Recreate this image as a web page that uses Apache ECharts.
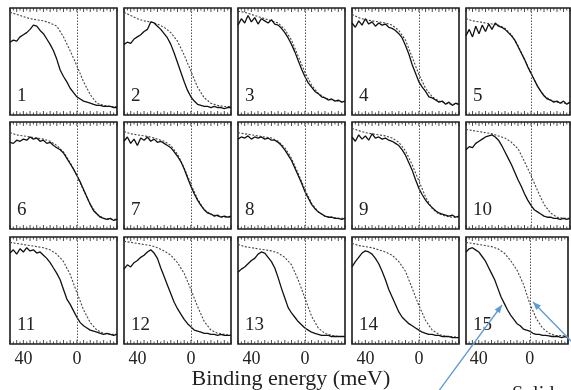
<!DOCTYPE html>
<html><head><meta charset="utf-8">
<script src="https://cdn.jsdelivr.net/npm/echarts@6/dist/echarts.min.js"></script>
<style>html,body{margin:0;padding:0;background:#fff}#c{width:571px;height:390px}</style>
</head><body><div id="c"></div>
<script>
// Binding energy grids (meV)
const energiesSolid = [50,47.5,45,42.5,40,37.5,35,32.5,30,27.5,25,22.5,20,17.5,15,12.5,10,7.5,5,2.5,0,-2.5,-5,-7.5,-10,-12.5,-15,-17.5,-20,-22.5,-25,-27.5,-30];
const energiesDashed = [50,45,40,35,30,25,20,15,10,5,0,-5,-10,-15,-20,-25,-30];
const majorTickValues = [50,45,40,35,30,25,20,15,10,5,0,-5,-10,-15,-20,-25,-30];
const minorTickValues = [47.5,42.5,37.5,32.5,27.5,22.5,17.5,12.5,7.5,2.5,-2.5,-7.5,-12.5,-17.5,-22.5,-27.5];
const panelLabels = ['1','2','3','4','5','6','7','8','9','10','11','12','13','14','15'];
const tickLabels = [40, 0];
const axisTitle = 'Binding energy (meV)';

// Solid spectra
const solid1 = [0.68,0.70,0.69,0.73,0.75,0.77,0.80,0.84,0.83,0.79, 0.76,0.71,0.66,0.60,0.52,0.42,0.36,0.31,0.25,0.21, 0.17,0.15,0.13,0.12,0.11,0.10,0.09,0.09,0.08,0.08, 0.08,0.07,0.07];
const solid2 = [0.66,0.68,0.67,0.71,0.73,0.75,0.78,0.80,0.87,0.86, 0.83,0.80,0.76,0.72,0.66,0.58,0.49,0.40,0.31,0.23, 0.17,0.13,0.10,0.09,0.08,0.08,0.07,0.08,0.07,0.07, 0.06,0.07,0.07];
const solid3 = [0.84,0.90,0.86,0.93,0.87,0.91,0.85,0.90,0.88,0.86, 0.89,0.85,0.84,0.81,0.77,0.72,0.66,0.59,0.51,0.43, 0.36,0.30,0.26,0.22,0.20,0.17,0.16,0.14,0.15,0.13, 0.14,0.12,0.13];
const solid4 = [0.86,0.82,0.88,0.84,0.90,0.85,0.87,0.83,0.86,0.84, 0.85,0.82,0.81,0.79,0.76,0.72,0.65,0.57,0.47,0.39, 0.31,0.26,0.22,0.17,0.16,0.14,0.12,0.13,0.10,0.12, 0.09,0.11,0.10];
const solid5 = [0.74,0.80,0.73,0.83,0.76,0.84,0.78,0.85,0.80,0.86, 0.83,0.82,0.80,0.77,0.74,0.70,0.64,0.58,0.52,0.45, 0.39,0.33,0.27,0.22,0.18,0.15,0.14,0.12,0.13,0.11, 0.13,0.10,0.12];
const solid6 = [0.81,0.80,0.83,0.82,0.84,0.83,0.86,0.84,0.85,0.82, 0.83,0.80,0.81,0.78,0.76,0.74,0.71,0.66,0.61,0.56, 0.50,0.44,0.37,0.30,0.23,0.17,0.14,0.11,0.10,0.09, 0.10,0.08,0.09];
const solid7 = [0.82,0.86,0.80,0.84,0.78,0.85,0.83,0.86,0.82,0.84, 0.81,0.82,0.80,0.78,0.76,0.72,0.68,0.63,0.56,0.48, 0.40,0.33,0.27,0.22,0.18,0.15,0.14,0.12,0.13,0.11, 0.12,0.11,0.12];
const solid8 = [0.84,0.86,0.85,0.87,0.84,0.86,0.85,0.86,0.84,0.85, 0.83,0.83,0.81,0.78,0.74,0.69,0.64,0.57,0.50,0.43, 0.35,0.29,0.23,0.19,0.16,0.14,0.12,0.11,0.11,0.10, 0.10,0.09,0.10];
const solid9 = [0.86,0.82,0.88,0.84,0.87,0.83,0.89,0.85,0.86,0.84, 0.85,0.83,0.82,0.80,0.78,0.74,0.69,0.62,0.55,0.46, 0.38,0.32,0.27,0.23,0.20,0.17,0.15,0.14,0.13,0.12, 0.13,0.11,0.12];
const solid10 = [0.74,0.77,0.76,0.80,0.82,0.84,0.86,0.87,0.88,0.86, 0.83,0.78,0.72,0.66,0.60,0.53,0.46,0.40,0.33,0.27, 0.22,0.18,0.16,0.14,0.12,0.11,0.11,0.10,0.10,0.09, 0.10,0.09,0.10];
const solid11 = [0.85,0.88,0.84,0.89,0.86,0.90,0.87,0.88,0.85,0.86, 0.83,0.80,0.76,0.71,0.66,0.60,0.51,0.42,0.37,0.31, 0.25,0.20,0.17,0.15,0.13,0.12,0.11,0.10,0.09,0.10, 0.09,0.08,0.09];
const solid12 = [0.70,0.74,0.72,0.76,0.78,0.81,0.83,0.86,0.88,0.85, 0.80,0.71,0.63,0.55,0.47,0.39,0.33,0.28,0.23,0.19, 0.16,0.13,0.12,0.11,0.10,0.10,0.09,0.09,0.08,0.09, 0.08,0.08,0.08];
const solid13 = [0.67,0.70,0.72,0.75,0.78,0.80,0.84,0.86,0.85,0.81, 0.77,0.71,0.62,0.52,0.43,0.34,0.29,0.25,0.21,0.18, 0.15,0.13,0.11,0.10,0.09,0.08,0.08,0.08,0.07,0.07, 0.07,0.07,0.07];
const solid14 = [0.72,0.77,0.81,0.85,0.87,0.86,0.84,0.80,0.75,0.68, 0.60,0.51,0.44,0.37,0.30,0.25,0.22,0.19,0.17,0.15, 0.13,0.11,0.10,0.09,0.09,0.08,0.08,0.07,0.07,0.07, 0.06,0.06,0.06];
const solid15 = [0.86,0.89,0.90,0.88,0.86,0.82,0.78,0.72,0.66,0.60, 0.52,0.44,0.38,0.32,0.27,0.23,0.19,0.17,0.14,0.13, 0.12,0.10,0.09,0.09,0.08,0.08,0.075,0.07,0.07,0.07, 0.06,0.07,0.06];

// Dashed reference spectra
const dashed1 = [0.96,0.94,0.92,0.90,0.89,0.88,0.86,0.83,0.73,0.60,0.46,0.31,0.19,0.11,0.09,0.08,0.08];
const dashed2 = [0.96,0.93,0.90,0.88,0.87,0.85,0.82,0.77,0.69,0.56,0.41,0.26,0.16,0.11,0.09,0.08,0.08];
const dashed3 = [0.97,0.96,0.94,0.92,0.90,0.88,0.86,0.80,0.70,0.55,0.40,0.28,0.20,0.16,0.14,0.13,0.12];
const dashed4 = [0.94,0.91,0.89,0.88,0.87,0.86,0.84,0.79,0.70,0.54,0.38,0.25,0.17,0.13,0.11,0.10,0.10];
const dashed5 = [0.90,0.88,0.87,0.86,0.85,0.84,0.81,0.75,0.65,0.52,0.39,0.27,0.18,0.14,0.12,0.11,0.11];
const dashed6 = [0.90,0.88,0.87,0.86,0.85,0.84,0.82,0.78,0.72,0.62,0.50,0.36,0.23,0.14,0.10,0.09,0.09];
const dashed7 = [0.91,0.89,0.88,0.87,0.86,0.84,0.82,0.78,0.70,0.57,0.42,0.28,0.18,0.14,0.12,0.11,0.11];
const dashed8 = [0.90,0.89,0.88,0.87,0.86,0.85,0.82,0.76,0.66,0.52,0.37,0.24,0.16,0.12,0.11,0.10,0.10];
const dashed9 = [0.94,0.92,0.90,0.89,0.88,0.87,0.85,0.81,0.73,0.60,0.45,0.30,0.19,0.14,0.12,0.11,0.11];
const dashed10 = [0.93,0.92,0.91,0.90,0.89,0.87,0.85,0.81,0.75,0.63,0.50,0.36,0.23,0.15,0.11,0.10,0.10];
const dashed11 = [0.95,0.94,0.93,0.92,0.91,0.90,0.88,0.84,0.77,0.65,0.48,0.32,0.20,0.13,0.10,0.09,0.09];
const dashed12 = [0.96,0.95,0.94,0.93,0.92,0.90,0.87,0.83,0.76,0.66,0.51,0.35,0.21,0.13,0.10,0.09,0.08];
const dashed13 = [0.93,0.91,0.90,0.89,0.88,0.87,0.85,0.81,0.74,0.60,0.43,0.26,0.15,0.10,0.08,0.07,0.07];
const dashed14 = [0.94,0.92,0.91,0.90,0.88,0.86,0.83,0.77,0.68,0.52,0.36,0.22,0.13,0.09,0.07,0.07,0.06];
const dashed15 = [0.95,0.94,0.93,0.92,0.91,0.89,0.85,0.78,0.69,0.56,0.38,0.24,0.15,0.10,0.08,0.08,0.07];

const solidCurves = [solid1,solid2,solid3,solid4,solid5,solid6,solid7,solid8,solid9,solid10,solid11,solid12,solid13,solid14,solid15];
const dashedCurves = [dashed1,dashed2,dashed3,dashed4,dashed5,dashed6,dashed7,dashed8,dashed9,dashed10,dashed11,dashed12,dashed13,dashed14,dashed15];

// Layout
const colLeft = [10,124,238,352,466];
const colWidth = [107,107,107,107,104];
const rowTop = [8,122,237];
const panelH = 107;
const serif = "'Liberation Serif','DejaVu Serif','Times New Roman',serif";

const chart = echarts.init(document.getElementById('c'), null, {renderer:'canvas'});
const grid = [], xAxis = [], yAxis = [], series = [], graphic = [];

function tickSeries(p, values, y, len, dir) {
  return {type: 'scatter', xAxisIndex: p, yAxisIndex: p, silent: true, clip: false, z: 4,
    symbol: 'rect', symbolSize: [1, len], symbolOffset: [0, dir * len / 2],
    itemStyle: {color: '#222'}, data: values.map(v => [v, y])};
}

for (let p = 0; p < 15; p++) {
  const r = Math.floor(p / 5), c = p % 5;
  const left = colLeft[c], top = rowTop[r], w = colWidth[c];
  grid.push({left: left, top: top, width: w, height: panelH, show: true,
    borderColor: '#1c1c1c', borderWidth: 1.6, backgroundColor: 'transparent', containLabel: false});
  xAxis.push({type: 'value', gridIndex: p, min: -30, max: 50, interval: 5, inverse: true, position: 'bottom',
    axisLine: {show: false, onZero: false}, axisTick: {show: false}, splitLine: {show: false},
    axisLabel: {show: r === 2, interval: 0, margin: 6, fontSize: 18, color: '#222', fontFamily: serif,
      formatter: v => tickLabels.indexOf(v) >= 0 ? String(v) : ''}});
  yAxis.push({type: 'value', gridIndex: p, min: 0, max: 1, show: false});
  series.push({type: 'line', xAxisIndex: p, yAxisIndex: p, showSymbol: false, silent: true,
    data: energiesDashed.map((e,i) => [e, dashedCurves[p][i]]),
    lineStyle: {color: '#444', width: 1.1, type: [2, 1.6]},
    markLine: {silent: true, symbol: 'none', label: {show: false},
      lineStyle: {color: '#555', width: 1, type: [1.5, 1.5]}, data: [{xAxis: 0}]},
    z: 2});
  series.push({type: 'line', xAxisIndex: p, yAxisIndex: p, showSymbol: false, silent: true,
    data: energiesSolid.map((e,i) => [e, solidCurves[p][i]]),
    lineStyle: {color: '#111', width: 1.3}, z: 3});
  // inward ticks on bottom and top edges
  series.push(tickSeries(p, majorTickValues, 0, 4, -1));
  series.push(tickSeries(p, minorTickValues, 0, 2.5, -1));
  series.push(tickSeries(p, majorTickValues, 1, 4, 1));
  series.push(tickSeries(p, minorTickValues, 1, 2.5, 1));
  graphic.push({type: 'text', left: left + 7, top: top + panelH - 28,
    style: {text: panelLabels[p], font: '19px ' + serif, fill: '#222'}});
}

graphic.push({type: 'text', left: colLeft[2] + colWidth[2]/2 - 100, top: 368,
  style: {text: axisTitle, font: '22px ' + serif, fill: '#222', width: 200, textAlign: 'center'}});
graphic.push({type: 'text', left: 512, top: 385,
  style: {text: 'Solid', font: '20px ' + serif, fill: '#222'}});

function arrow(x1, y1, x2, y2) {
  const col = '#5b9bd5';
  graphic.push({type: 'line', shape: {x1, y1, x2, y2}, style: {stroke: col, lineWidth: 1.3}, z: 10});
  const a = Math.atan2(y2 - y1, x2 - x1), L = 8, W = 3.2;
  const bx = x2 - L*Math.cos(a), by = y2 - L*Math.sin(a);
  graphic.push({type: 'polygon', shape: {points: [[x2,y2],[bx + W*Math.sin(a), by - W*Math.cos(a)],[bx - W*Math.sin(a), by + W*Math.cos(a)]]},
    style: {fill: col}, z: 10});
}
arrow(438, 392, 502, 305);
arrow(573, 343, 533, 302);

chart.setOption({animation: false, backgroundColor: '#fff', grid, xAxis, yAxis, series, graphic});
</script></body></html>
